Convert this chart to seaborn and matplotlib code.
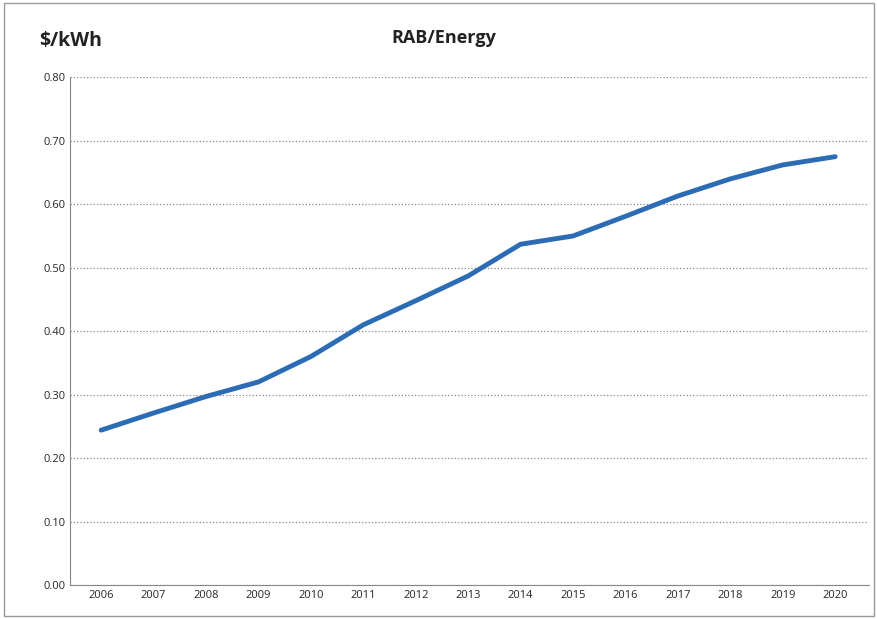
import matplotlib
matplotlib.use("Agg")
import matplotlib.pyplot as plt
import seaborn as sns
import pandas as pd

years = list(range(2006, 2021))
values = [0.244, 0.271, 0.297, 0.320, 0.360, 0.410, 0.448, 0.487, 0.537,
          0.550, 0.581, 0.613, 0.640, 0.662, 0.675]
y_ticks = [0.0, 0.1, 0.2, 0.3, 0.4, 0.5, 0.6, 0.7, 0.8]

sns.set_style("white")
plt.rcParams['font.family'] = ['Open Sans', 'DejaVu Sans']

df = pd.DataFrame({"year": years, "value": values})

fig = plt.figure(figsize=(8.78, 6.19), dpi=100)
ax = fig.add_axes([0.08, 0.055, 0.91, 0.82])
sns.lineplot(data=df, x="year", y="value", ax=ax, color="#2b6cb5", linewidth=3.5)

ax.set_xlim(2005.41, 2020.65)
ax.set_ylim(0, 0.8)
ax.set_yticks(y_ticks)
ax.set_yticklabels([f"{v:.2f}" for v in y_ticks], fontsize=8)
ax.set_xticks(years)
ax.set_xticklabels([str(y) for y in years], fontsize=8)
ax.set_xlabel("")
ax.set_ylabel("")
ax.grid(axis="y", color="#888888", linestyle=":", linewidth=0.9)
for s in ["top", "right"]:
    ax.spines[s].set_visible(False)
for s in ["left", "bottom"]:
    ax.spines[s].set_color("#888888")
ax.tick_params(length=0)

fig.text(0.045, 0.925, "$/kWh", fontsize=14, fontweight="bold", color="#222222")
fig.text(0.505, 0.93, "RAB/Energy", fontsize=13, fontweight="bold", color="#222222", ha="center")
fig.patches.append(plt.Rectangle((0.005, 0.005), 0.99, 0.99, transform=fig.transFigure,
                                 fill=False, edgecolor="#999999", linewidth=1))

fig.savefig("out.png", dpi=100)
